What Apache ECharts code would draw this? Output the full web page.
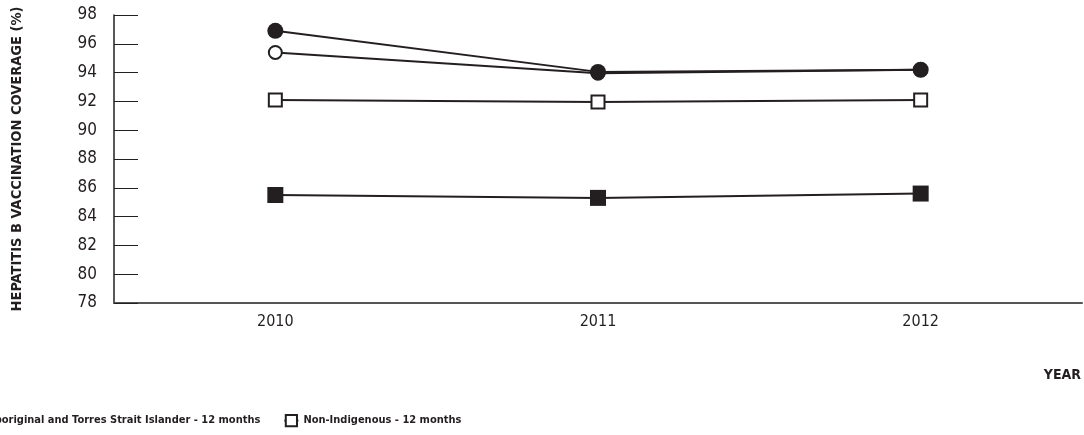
<!DOCTYPE html>
<html><head><meta charset="utf-8">
<script src="https://cdn.jsdelivr.net/npm/echarts@6/dist/echarts.min.js"></script>
<style>html,body{margin:0;padding:0;background:#fff}#c{width:1084px;height:435px}</style>
</head><body><div id="c"></div>
<script>
const years = ['2010', '2011', '2012'];
const indig12 = [85.5, 85.3, 85.6];
const nonIndig12 = [92.1, 91.95, 92.1];
const indig24 = [96.9, 94.05, 94.2];
const nonIndig24 = [95.4, 93.95, 94.2];
const yTicks = {min: 78, max: 98, step: 2};

const FONT = '"Liberation Sans Narrow", "DejaVu Sans Condensed", sans-serif';
const INK = '#231f20';
const chart = echarts.init(document.getElementById('c'));
chart.setOption({
  animation: false,
  grid: {left: 114, right: 2, top: 15, bottom: 132},
  title: {text: 'YEAR', right: 3, top: 368, padding: 0, textStyle: {fontFamily: FONT, fontWeight: 'bold', fontSize: 14, color: INK}},
  legend: {
    data: ['Aboriginal and Torres Strait Islander - 12 months', 'Non-Indigenous - 12 months'],
    left: -33, top: 414, padding: 0, itemWidth: 14, itemHeight: 14, itemGap: 23,
    textStyle: {fontFamily: FONT, fontWeight: 'bold', fontSize: 11, color: INK}
  },
  xAxis: {
    type: 'category', data: years, boundaryGap: true,
    axisLine: {lineStyle: {color: '#555', width: 2}},
    axisTick: {inside: true, alignWithLabel: true, length: 6, lineStyle: {color: '#555'}},
    axisLabel: {fontFamily: FONT, fontSize: 16, color: INK, margin: 11},
    splitLine: {show: false}
  },
  yAxis: {
    type: 'value', min: yTicks.min, max: yTicks.max, interval: yTicks.step,
    name: 'HEPATITIS B VACCINATION COVERAGE (%)', nameLocation: 'middle', nameGap: 89, nameRotate: 90,
    nameTextStyle: {fontFamily: FONT, fontWeight: 'bold', fontSize: 14.5, color: INK},
    axisLine: {show: true, lineStyle: {color: INK, width: 1.5}},
    axisTick: {show: true, inside: true, length: 24, lineStyle: {color: INK}},
    axisLabel: {fontFamily: FONT, fontSize: 17, color: INK, margin: 17},
    splitLine: {show: false}
  },
  series: [
    {name: 'Aboriginal and Torres Strait Islander - 12 months', type: 'line', data: indig12, symbol: 'rect', symbolSize: 16,
     lineStyle: {color: INK, width: 2}, itemStyle: {color: INK}},
    {name: 'Non-Indigenous - 12 months', type: 'line', data: nonIndig12, symbol: 'rect', symbolSize: 13,
     lineStyle: {color: INK, width: 2}, itemStyle: {color: '#fff', borderColor: INK, borderWidth: 2}},
    {name: 'Non-Indigenous - 24 months', type: 'line', data: nonIndig24, symbol: 'circle', symbolSize: 13,
     lineStyle: {color: INK, width: 2}, itemStyle: {color: '#fff', borderColor: INK, borderWidth: 2}},
    {name: 'Aboriginal and Torres Strait Islander - 24 months', type: 'line', data: indig24, symbol: 'circle', symbolSize: 16,
     lineStyle: {color: INK, width: 2}, itemStyle: {color: INK}}
  ]
});
</script></body></html>
